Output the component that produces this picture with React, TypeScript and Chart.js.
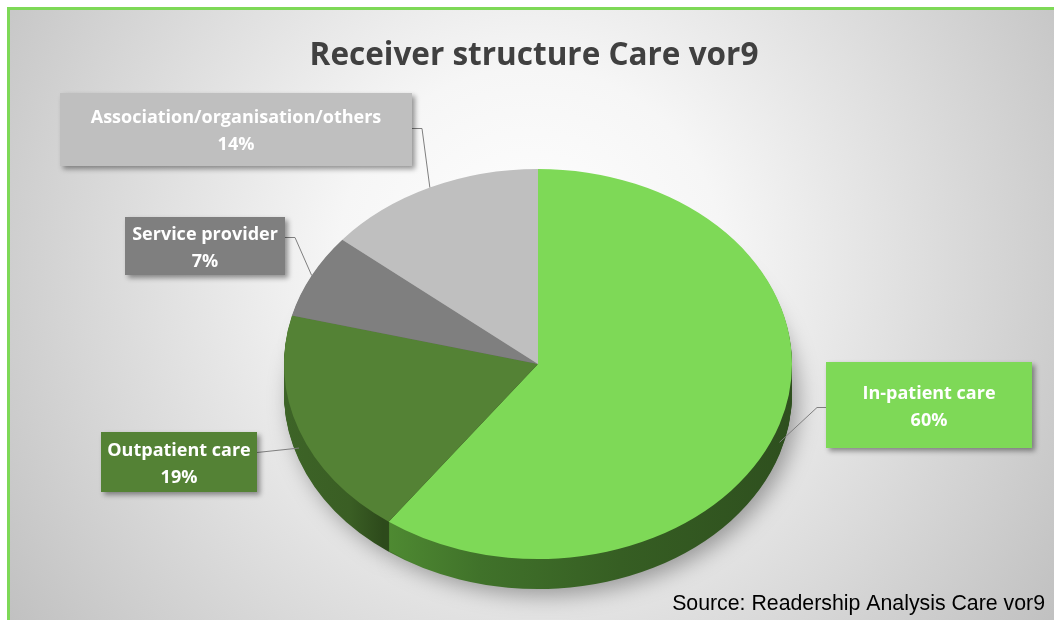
import { useEffect, useRef } from "react";
import { Chart, registerables } from "chart.js";

Chart.register(...registerables);

// ---- data ----
const categories = ["In-patient care", "Outpatient care", "Service provider", "Association/organisation/others"];
const shares = [60, 19, 7, 14];
const percentLabels = ["60%", "19%", "7%", "14%"];
const sliceColors = ["#7ED957", "#548235", "#7F7F7F", "#BFBFBF"];
const chartTitle = "Receiver structure Care vor9";
const sourceNote = "Source: Readership Analysis Care vor9";

// ---- layout / style ----
const W = 1054;
const H = 620;
const PIE = { cx: 538, cy: 364, rx: 254, ry: 195, depth: 30 };
const sideStops: [number, string][][] = [
  [[383, "#4f8b32"], [480, "#40722a"], [620, "#365e23"], [792, "#2e4f1e"]],
  [[284, "#3d6427"], [350, "#3a5e24"], [383, "#2d4a1b"]],
  [[284, "#6a6a6a"], [540, "#5e5e5e"]],
  [[284, "#9c9c9c"], [540, "#8e8e8e"]],
];
type Box = { x: number; y: number; w: number; h: number; side: "left" | "right"; attachY: number; elbow: number };
const labelBoxes: Box[] = [
  { x: 826, y: 362, w: 206, h: 86, side: "left", attachY: 407, elbow: 9 },
  { x: 101, y: 432, w: 156, h: 60, side: "right", attachY: 452, elbow: 0 },
  { x: 125, y: 217, w: 160, h: 58, side: "right", attachY: 237, elbow: 10 },
  { x: 60, y: 93, w: 352, h: 73, side: "right", attachY: 128, elbow: 10 },
];
const LABEL_FONT = "bold 18px 'Open Sans'";
const LINE_GAP = 27;
const TEXT_SHIFT = 2;

function pieGeom(chart: any) {
  const arcs = chart.getDatasetMeta(0).data as any[];
  const p = arcs[0].getProps(["x", "y", "outerRadius"], true);
  const sx = PIE.rx / p.outerRadius;
  const sy = PIE.ry / p.outerRadius;
  return { arcs, ccx: p.x, ccy: p.y, sx, sy };
}

const backgroundPlugin = {
  id: "bgFrame",
  beforeDraw(chart: any) {
    const ctx = chart.ctx as CanvasRenderingContext2D;
    ctx.save();
    const g = ctx.createRadialGradient(530, 260, 0, 530, 260, 640);
    g.addColorStop(0, "#ffffff");
    g.addColorStop(0.3, "#f6f6f6");
    g.addColorStop(1, "#c0c0c0");
    ctx.fillStyle = g;
    ctx.fillRect(0, 0, W, H);
    ctx.fillStyle = "#ffffff";
    ctx.fillRect(0, 0, W, 7);
    ctx.fillRect(0, 0, 7, H);
    ctx.strokeStyle = "#7ED957";
    ctx.lineWidth = 3;
    ctx.beginPath();
    ctx.moveTo(8.5, H + 5);
    ctx.lineTo(8.5, 8.5);
    ctx.lineTo(W + 5, 8.5);
    ctx.stroke();
    ctx.restore();
  },
};

const pie3dPlugin = {
  id: "pie3d",
  beforeDatasetsDraw(chart: any) {
    const ctx = chart.ctx as CanvasRenderingContext2D;
    const { arcs, ccx, ccy, sx, sy } = pieGeom(chart);
    const toC = (X: number) => ccx + (X - PIE.cx) / sx;
    const grads = sideStops.map((stops) => {
      const g = ctx.createLinearGradient(toC(stops[0][0]), 0, toC(stops[stops.length - 1][0]), 0);
      const x0 = stops[0][0];
      const span = stops[stops.length - 1][0] - x0;
      stops.forEach(([X, c]) => g.addColorStop((X - x0) / span, c));
      return g;
    });
    ctx.save();
    for (let d = PIE.depth; d >= 1; d--) {
      ctx.setTransform(sx, 0, 0, sy, PIE.cx - ccx * sx, PIE.cy - ccy * sy + d);
      if (d === PIE.depth) {
        ctx.shadowColor = "rgba(0,0,0,0.35)";
        ctx.shadowBlur = 22;
        ctx.shadowOffsetX = 6;
        ctx.shadowOffsetY = 6;
      } else {
        ctx.shadowColor = "rgba(0,0,0,0)";
        ctx.shadowBlur = 0;
        ctx.shadowOffsetX = 0;
        ctx.shadowOffsetY = 0;
      }
      arcs.forEach((arc, i) => {
        const orig = arc.options.backgroundColor;
        arc.options.backgroundColor = grads[i];
        arc.draw(ctx);
        arc.options.backgroundColor = orig;
      });
    }
    ctx.restore();
    ctx.save();
    ctx.setTransform(sx, 0, 0, sy, PIE.cx - ccx * sx, PIE.cy - ccy * sy);
  },
  afterDatasetsDraw(chart: any) {
    chart.ctx.restore();
  },
  afterDraw(chart: any) {
    const ctx = chart.ctx as CanvasRenderingContext2D;
    const { arcs } = pieGeom(chart);
    ctx.save();
    arcs.forEach((arc, i) => {
      const b = labelBoxes[i];
      const mid = (arc.startAngle + arc.endAngle) / 2;
      const ax = PIE.cx + PIE.rx * Math.cos(mid);
      const ay = PIE.cy + PIE.ry * Math.sin(mid) + (Math.sin(mid) > 0 ? PIE.depth * 0.6 : 0);
      const ex = b.side === "right" ? b.x + b.w : b.x;
      const elx = b.side === "right" ? ex + b.elbow : ex - b.elbow;
      ctx.strokeStyle = "#7f7f7f";
      ctx.lineWidth = 1;
      ctx.beginPath();
      ctx.moveTo(ex, b.attachY + 0.5);
      ctx.lineTo(elx, b.attachY + 0.5);
      ctx.lineTo(ax, ay);
      ctx.stroke();
      // box
      ctx.save();
      ctx.shadowColor = "rgba(0,0,0,0.4)";
      ctx.shadowBlur = 5;
      ctx.shadowOffsetX = 3;
      ctx.shadowOffsetY = 3;
      ctx.fillStyle = sliceColors[i];
      ctx.fillRect(b.x, b.y, b.w, b.h);
      ctx.restore();
      ctx.fillStyle = "#ffffff";
      ctx.font = LABEL_FONT;
      ctx.textAlign = "center";
      ctx.textBaseline = "middle";
      const cx = b.x + b.w / 2;
      const cy = b.y + b.h / 2 + TEXT_SHIFT;
      ctx.fillText(categories[i], cx, cy - LINE_GAP / 2);
      ctx.fillText(percentLabels[i], cx, cy + LINE_GAP / 2);
    });
    ctx.fillStyle = "#000000";
    ctx.font = "21.3px 'Liberation Sans', Arial, sans-serif";
    ctx.textAlign = "right";
    ctx.textBaseline = "alphabetic";
    ctx.fillText(sourceNote, 1045, 610);
    ctx.restore();
  },
};

export default function App() {
  const ref = useRef<HTMLCanvasElement | null>(null);
  useEffect(() => {
    if (!ref.current) return;
    const chart = new Chart(ref.current, {
      type: "pie",
      data: {
        labels: categories,
        datasets: [{ data: shares, backgroundColor: sliceColors, borderWidth: 0 }],
      },
      options: {
        responsive: false,
        maintainAspectRatio: false,
        animation: false,
        devicePixelRatio: 1,
        events: [],
        layout: { padding: { top: 0, bottom: 0, left: 280, right: 266 } },
        plugins: {
          legend: { display: false },
          tooltip: { enabled: false },
          title: {
            display: true,
            text: chartTitle,
            color: "#404040",
            font: { family: "Open Sans", size: 31.5, weight: "bold" },
            padding: { top: 37, bottom: 10 },
          },
        },
      },
      plugins: [backgroundPlugin, pie3dPlugin],
    });
    return () => chart.destroy();
  }, []);
  return (
    <div style={{ position: "fixed", left: 0, top: 0, width: W, height: H }}>
      <canvas ref={ref} width={W} height={H} style={{ display: "block" }} />
    </div>
  );
}
